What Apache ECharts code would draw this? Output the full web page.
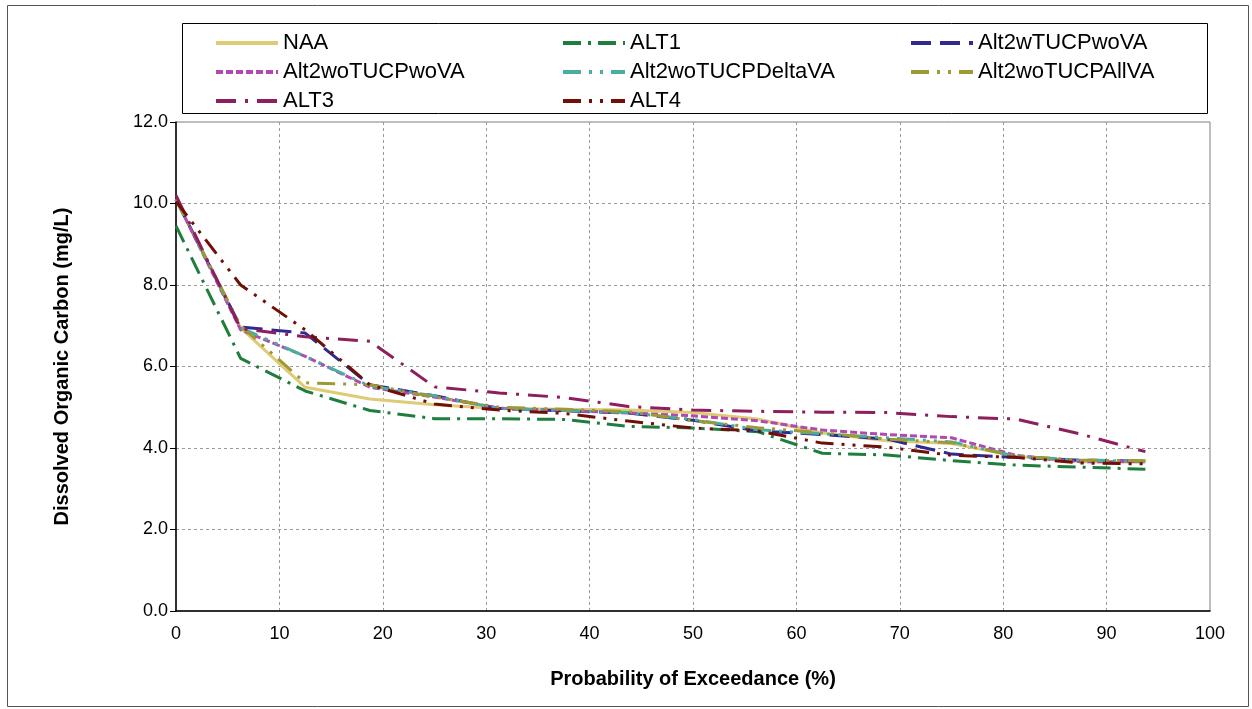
<!DOCTYPE html>
<html><head><meta charset="utf-8">
<script src="https://cdn.jsdelivr.net/npm/echarts@6/dist/echarts.min.js"></script>
<style>html,body{margin:0;padding:0;background:#fff}#c{width:1252px;height:709px}</style>
</head><body><div id="c"></div>
<script>
const exceedance = [0, 6.25, 12.5, 18.75, 25, 31.25, 37.5, 43.75, 50, 56.25, 62.5, 68.75, 75, 81.25, 87.5, 93.75];
const NAA = [10.1, 6.95, 5.49, 5.2, 5.06, 4.97, 4.95, 4.93, 4.87, 4.71, 4.37, 4.18, 4.11, 3.80, 3.66, 3.65];
const ALT1 = [9.45, 6.2, 5.4, 4.92, 4.72, 4.72, 4.70, 4.53, 4.49, 4.40, 3.87, 3.83, 3.69, 3.58, 3.53, 3.48];
const Alt2wTUCPwoVA = [10.1, 6.97, 6.82, 5.55, 5.28, 4.97, 4.91, 4.86, 4.68, 4.42, 4.33, 4.22, 3.85, 3.77, 3.70, 3.68];
const Alt2woTUCPwoVA = [10.1, 6.9, 6.25, 5.49, 5.25, 4.98, 4.92, 4.86, 4.79, 4.67, 4.44, 4.33, 4.25, 3.82, 3.66, 3.67];
const Alt2woTUCPDeltaVA = [10.1, 6.95, 6.25, 5.52, 5.28, 4.97, 4.92, 4.87, 4.70, 4.45, 4.35, 4.25, 4.15, 3.80, 3.70, 3.68];
const Alt2woTUCPAllVA = [10.1, 7.0, 5.6, 5.55, 5.25, 5.0, 4.95, 4.89, 4.67, 4.5, 4.37, 4.22, 4.13, 3.8, 3.7, 3.69];
const ALT3 = [10.2, 6.93, 6.73, 6.62, 5.5, 5.35, 5.24, 5.02, 4.93, 4.9, 4.88, 4.87, 4.77, 4.71, 4.34, 3.91];
const ALT4 = [10.05, 8.0, 6.9, 5.55, 5.08, 4.93, 4.85, 4.66, 4.49, 4.42, 4.12, 4.02, 3.82, 3.77, 3.63, 3.61];

const seriesDefs = [
  {name: 'NAA', data: NAA, color: '#DFCB74', type: 'solid'},
  {name: 'ALT1', data: ALT1, color: '#1E7E3C', type: [18, 7, 3, 7]},
  {name: 'Alt2wTUCPwoVA', data: Alt2wTUCPwoVA, color: '#2F2A90', type: [20, 9]},
  {name: 'Alt2woTUCPwoVA', data: Alt2woTUCPwoVA, color: '#B04AB0', type: [7, 3]},
  {name: 'Alt2woTUCPDeltaVA', data: Alt2woTUCPDeltaVA, color: '#4AAE9F', type: [18, 8, 3, 8, 3, 8]},
  {name: 'Alt2woTUCPAllVA', data: Alt2woTUCPAllVA, color: '#9C9A34', type: [18, 8, 3, 8, 3, 8]},
  {name: 'ALT3', data: ALT3, color: '#8E1F5E', type: [20, 9, 3, 9]},
  {name: 'ALT4', data: ALT4, color: '#6E1007', type: [18, 8, 3, 8, 3, 8]}
];

const font = 'Liberation Sans, Arial, sans-serif';
const chart = echarts.init(document.getElementById('c'), null, {renderer: 'canvas'});

const legendBase = {
  orient: 'vertical', top: 27, itemWidth: 62, itemHeight: 14, itemGap: 7,
  textStyle: {fontFamily: font, fontSize: 22, color: '#000', lineHeight: 22},
  itemStyle: {opacity: 0},
  lineStyle: {width: 4},
  selectedMode: false
};

chart.setOption({
  animation: false,
  backgroundColor: '#fff',
  color: seriesDefs.map(s => s.color),
  legend: [
    Object.assign({}, legendBase, {left: 209, data: ['NAA', 'Alt2woTUCPwoVA', 'ALT3']}),
    Object.assign({}, legendBase, {left: 556, data: ['ALT1', 'Alt2woTUCPDeltaVA', 'ALT4']}),
    Object.assign({}, legendBase, {left: 904, data: ['Alt2wTUCPwoVA', 'Alt2woTUCPAllVA']})
  ],
  grid: {left: 176, right: 42, top: 122, bottom: 98, show: true, borderColor: '#7f7f7f', borderWidth: 1, containLabel: false},
  xAxis: {
    type: 'value', min: 0, max: 100, interval: 10,
    name: 'Probability of Exceedance (%)', nameLocation: 'middle', nameGap: 58,
    nameTextStyle: {fontFamily: font, fontSize: 20, fontWeight: 'bold', color: '#000'},
    axisLine: {show: true, onZero: false, lineStyle: {color: '#000', width: 1.5}},
    axisTick: {show: false},
    axisLabel: {fontFamily: font, fontSize: 18, color: '#000', margin: 14},
    splitLine: {show: true, showMinLine: false, showMaxLine: false, lineStyle: {color: '#9a9a9a', type: [3, 3], width: 1}}
  },
  yAxis: {
    type: 'value', min: 0, max: 12, interval: 2,
    name: 'Dissolved Organic Carbon (mg/L)', nameLocation: 'middle', nameGap: 104,
    nameTextStyle: {fontFamily: font, fontSize: 20, fontWeight: 'bold', color: '#000'},
    axisLine: {show: true, onZero: false, lineStyle: {color: '#000', width: 1.5}},
    axisTick: {show: true, inside: false, length: 6, lineStyle: {color: '#000'}},
    axisLabel: {fontFamily: font, fontSize: 18, color: '#000', margin: 8, formatter: v => v.toFixed(1)},
    splitLine: {show: true, showMinLine: false, showMaxLine: false, lineStyle: {color: '#9a9a9a', type: [3, 3], width: 1}}
  },
  graphic: [
    {type: 'rect', left: 5, top: 3, shape: {width: 1241, height: 701}, style: {fill: 'none', stroke: '#555', lineWidth: 1}, silent: true, z: -1},
    {type: 'rect', left: 180, top: 21, shape: {width: 1025, height: 90}, style: {fill: 'none', stroke: '#000', lineWidth: 1}, silent: true}
  ],
  series: seriesDefs.map(s => ({
    name: s.name, type: 'line', symbol: 'none', smooth: false,
    data: exceedance.map((x, i) => [x, s.data[i]]),
    lineStyle: {color: s.color, width: 3, type: s.type},
    itemStyle: {color: s.color}
  }))
});
</script>
</body></html>
